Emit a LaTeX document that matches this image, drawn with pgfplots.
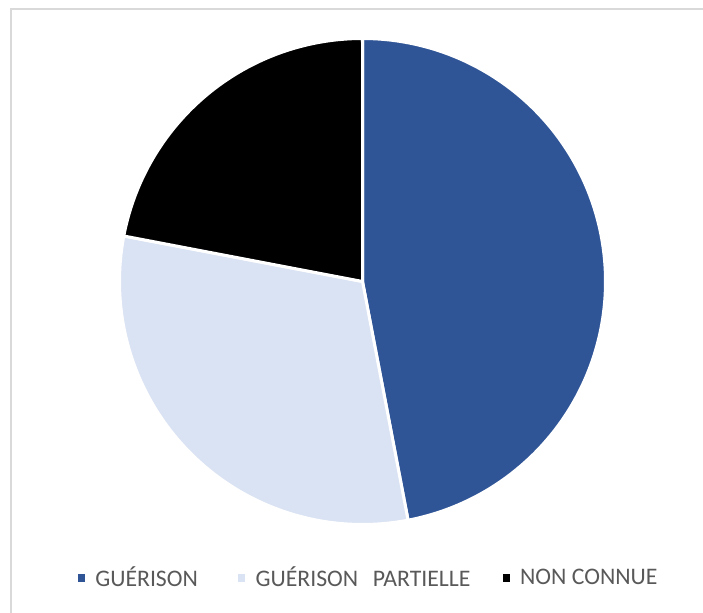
\documentclass[border=0pt]{standalone}
\usepackage{fontspec}
\setmainfont{Carlito}
\usepackage{pgfplots}
\usepackage{pgfplotstable}
\pgfplotsset{compat=1.18}
\definecolor{cBlue}{HTML}{2F5597}
\definecolor{cLight}{HTML}{DAE3F3}
\definecolor{cText}{HTML}{595959}
\definecolor{cFrame}{HTML}{D9D9D9}

\pgfplotstableread{
label value
A 47
B 31
C 22
}\piedata

\begin{document}
\begin{tikzpicture}
\pgfplotstablegetelem{0}{value}\of\piedata \let\vA\pgfplotsretval
\pgfplotstablegetelem{1}{value}\of\piedata \let\vB\pgfplotsretval
\pgfplotstablegetelem{2}{value}\of\piedata \let\vC\pgfplotsretval
\pgfmathsetmacro{\aA}{3.6*(\vA/(\vA+\vB+\vC))*100}
\pgfmathsetmacro{\aB}{\aA+3.6*(\vB/(\vA+\vB+\vC))*100}
\begin{axis}[
  at={(0,0)}, anchor=south west,
  scale only axis, width=527.25pt, height=459.75pt,
  xmin=0, xmax=703, ymin=0, ymax=613,
  hide axis, clip=false,
  legend columns=3,
  legend image code/.code={\fill[#1] (0pt,-3.9pt) rectangle (7.4pt,3.9pt);},
  legend style={at={(axis cs:75,35)}, anchor=west, draw=none, fill=none,
    inner sep=0pt, outer sep=0pt,
    font=\fontsize{17.8pt}{20pt}\selectfont, text=cText,
    nodes={inner sep=0pt},
    /tikz/every odd column/.append style={column sep=5.6pt},
    /tikz/every even column/.append style={column sep=22pt}},
]
\addplot[fill=cBlue, draw=white, line width=2.25pt, line join=round, domain=0:\aA, samples=150]
  ({362.5+243*sin(x)},{331.5+243*cos(x)}) -- (axis cs:362.5,331.5) -- cycle;
\addlegendentry{GUÉRISON\kern6pt}
\addplot[fill=cLight, draw=white, line width=2.25pt, line join=round, domain=\aA:\aB, samples=150]
  ({362.5+243*sin(x)},{331.5+243*cos(x)}) -- (axis cs:362.5,331.5) -- cycle;
\addlegendentry{GUÉRISON\hspace{11pt}PARTIELLE}
\addplot[fill=black, draw=white, line width=2.25pt, line join=round, domain=\aB:360, samples=150]
  ({362.5+243*sin(x)},{331.5+243*cos(x)}) -- (axis cs:362.5,331.5) -- cycle;
\addlegendentry{NON CONNUE}
\draw[cFrame, line width=1.5pt] (axis cs:11,0) -- (axis cs:11,603.5) -- (axis cs:703,603.5);
\end{axis}
\pgfresetboundingbox
\path[use as bounding box] (0,0) rectangle (527.25pt,459.75pt);
\end{tikzpicture}
\end{document}
